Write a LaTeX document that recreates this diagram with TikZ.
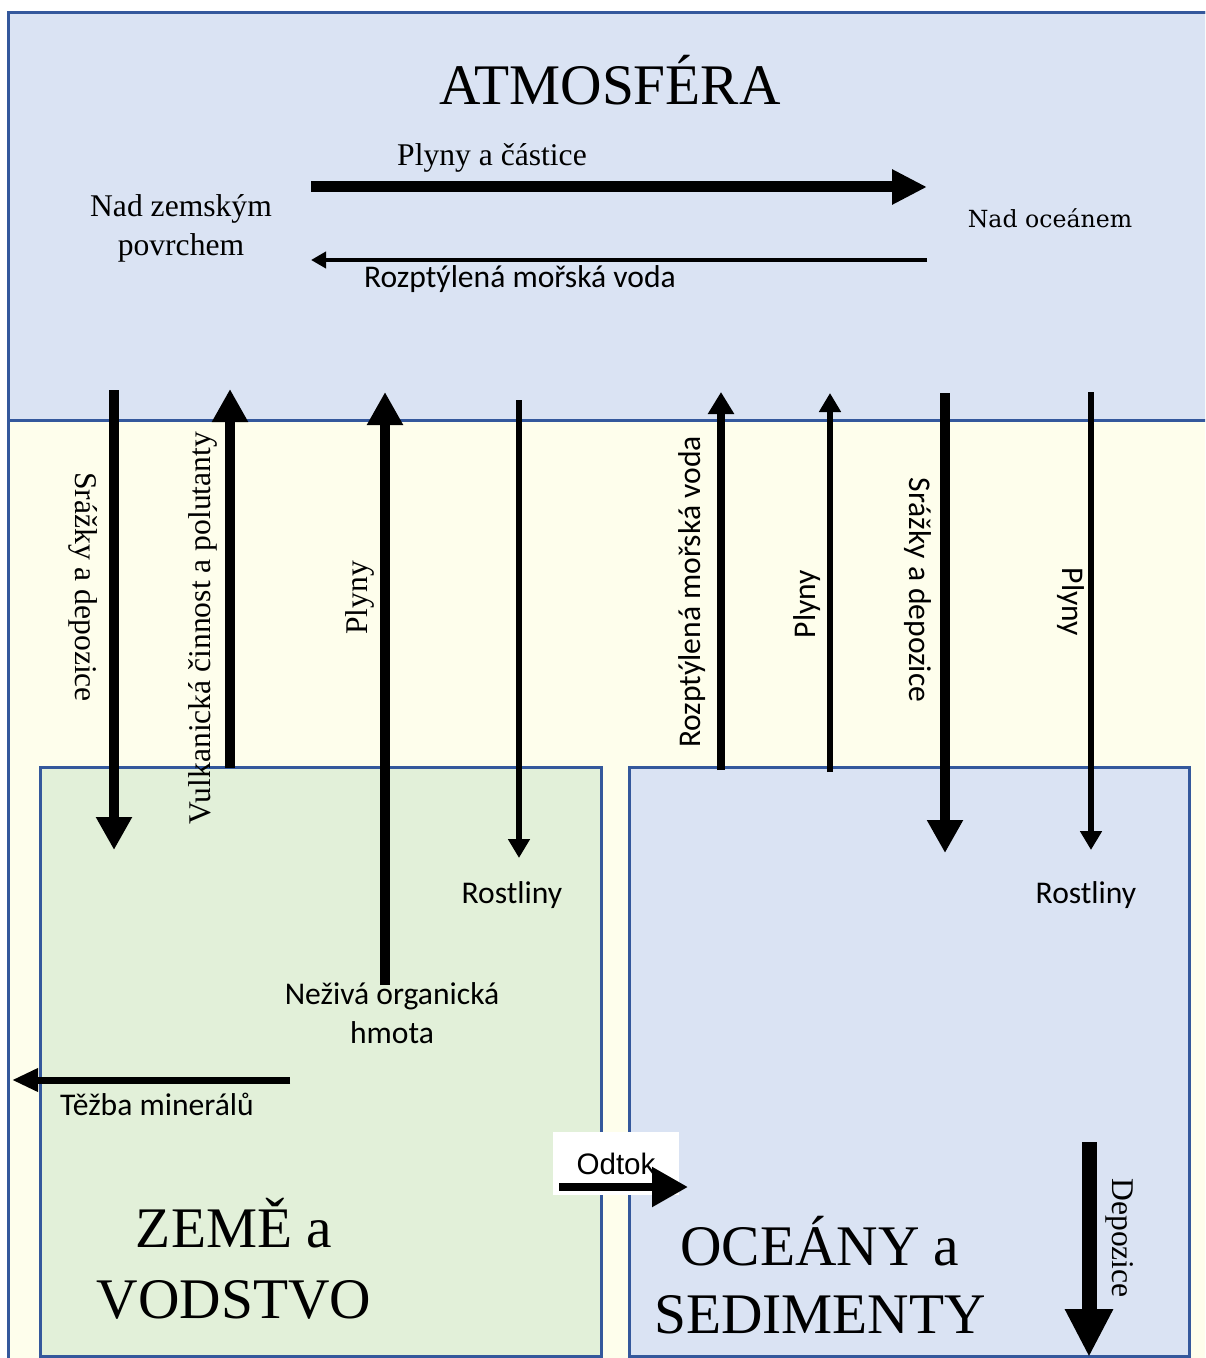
\documentclass[tikz,border=0pt]{standalone}
\usepackage{fontspec}
\setmainfont{Liberation Serif}
\newfontfamily\calfont{Carlito}
\newfontfamily\slabfont{DejaVu Serif}
\newfontfamily\arialfont{Liberation Sans}
\usetikzlibrary{positioning,arrows.meta}

\definecolor{atmblue}{HTML}{DAE3F3}
\definecolor{landgreen}{HTML}{E2F0D9}
\definecolor{paleyellow}{HTML}{FEFEEC}
\definecolor{edgeblue}{HTML}{34589C}

\begin{document}
\begin{tikzpicture}[
    x=0.5pt,y=-0.5pt,
    box/.style={draw=edgeblue,line width=1.5pt},
    big/.style={font=\fontsize{28.7}{35.5}\selectfont,align=center,inner sep=0pt},
    serlbl/.style={font=\fontsize{15.8}{19.5}\selectfont,inner sep=0pt,align=center},
    sanlbl/.style={font=\calfont\fontsize{15.8}{19.2}\selectfont,inner sep=0pt,align=center},
    fatflow/.style={line width=5.25pt,-{Triangle[length=16.5pt,width=17pt]}},
    wideflow/.style={line width=5.5pt,-{Triangle[length=17.5pt,width=16.5pt]}},
    midflow/.style={line width=4pt,-{Triangle[length=11pt,width=12.5pt]}},
    slimflow/.style={line width=2.75pt,-{Triangle[length=9.5pt,width=10.5pt]}},
    hairflow/.style={line width=2pt,-{Triangle[length=7.5pt,width=8pt]}},
    minflow/.style={line width=3.5pt,-{Triangle[length=13pt,width=11pt]}},
    runflow/.style={line width=4.25pt,-{Triangle[length=18pt,width=19pt]}},
    sedflow/.style={line width=7.5pt,-{Triangle[length=24pt,width=22.5pt]}}
    ]

    \useasboundingbox (0,0) rectangle (1205,1358);
    \fill[white] (0,0) rectangle (1205,1358);
    \clip (0,0) rectangle (1205,1358);

    % oblasti
    \filldraw[box,fill=paleyellow] (8,13) rectangle (1230,1380);
    \filldraw[box,fill=atmblue] (8,13) rectangle (1230,420);
    \filldraw[box,fill=landgreen] (40,767) rectangle (601,1356);
    \filldraw[box,fill=atmblue] (629,767) rectangle (1189,1356);

    % konce sipek
    \coordinate (srazL-a) at (114,390);  \coordinate (srazL-b) at (114,850);
    \coordinate (vulk-a) at (230,768);   \coordinate (vulk-b) at (230,389);
    \coordinate (plynL-a) at (385,985);  \coordinate (plynL-b) at (385,392);
    \coordinate (rostL-a) at (519,400);  \coordinate (rostL-b) at (519,858);
    \coordinate (rmvv-a) at (721,770);   \coordinate (rmvv-b) at (721,392);
    \coordinate (plynM-a) at (830,772);  \coordinate (plynM-b) at (830,393);
    \coordinate (srazR-a) at (945,393);  \coordinate (srazR-b) at (945,853);
    \coordinate (plynR-a) at (1091,392); \coordinate (plynR-b) at (1091,850);
    \coordinate (depoz-a) at (1089,1142); \coordinate (depoz-b) at (1089,1357);
    \coordinate (pac-a) at (311,187);    \coordinate (pac-b) at (927,187);
    \coordinate (rmvh-a) at (927,260);   \coordinate (rmvh-b) at (311,260);
    \coordinate (tezba-a) at (290,1080); \coordinate (tezba-b) at (12,1080);

    % popisky
    \node[big,anchor=base] (atm) at (610,105) {ATMOSFÉRA};
    \node[serlbl,anchor=base] (pac) at (492,166) {Plyny a částice};
    \node[serlbl,anchor=base] (nadzem) at (181,256) {Nad zemským\\povrchem};
    \node[font=\slabfont\fontsize{11.8}{14}\selectfont,inner sep=0pt,anchor=base] (nadocean) at (1050,228) {Nad oceánem};
    \node[sanlbl,anchor=base] (rmvh) at (520,288) {Rozptýlená mořská voda};

    \node[serlbl,rotate=-90] (srazL) at (83,587) {Srážky a depozice};
    \node[serlbl,rotate=90] (vulk) at (203,628) {Vulkanická činnost a polutanty};
    \node[serlbl,rotate=90] (plynL) at (360,598) {Plyny};
    \node[sanlbl,rotate=90] (rmvv) at (692,592) {Rozptýlená mořská voda};
    \node[sanlbl,rotate=90] (plynM) at (807,604) {Plyny};
    \node[sanlbl,rotate=-90] (srazR) at (918,590) {Srážky a depozice};
    \node[sanlbl,rotate=-90] (plynR) at (1071,602) {Plyny};
    \node[serlbl,rotate=-90] (depoz) at (1120,1238) {Depozice};

    \node[sanlbl,anchor=base] (rostL) at (512,903) {Rostliny};
    \node[sanlbl,anchor=base] (rostR) at (1086,903) {Rostliny};
    \node[sanlbl,anchor=base,font=\calfont\fontsize{15.8}{19.15}\selectfont] (neziva) at (392,1043) {Neživá organická\\hmota};
    \node[sanlbl,anchor=base] (tezba) at (157,1115) {Těžba minerálů};

    \node[big,anchor=base] (zeme) at (234,1318) {ZEMĚ a\\VODSTVO};
    \node[big,anchor=base,font=\fontsize{28.7}{34}\selectfont] (oceany) at (820,1333) {OCEÁNY a\\SEDIMENTY};

    \node[fill=white,minimum width=63pt,minimum height=31.5pt,inner sep=0pt,
          font=\arialfont\fontsize{14.8}{17}\selectfont] (odtok) at (616,1163.5) {Odtok};
    \coordinate (odtok-a) at (559,1187); \coordinate (odtok-b) at (688,1187);

    % toky
    \draw[fatflow] (srazL-a) -- (srazL-b);
    \draw[fatflow] (vulk-a) -- (vulk-b);
    \draw[fatflow] (plynL-a) -- (plynL-b);
    \draw[slimflow] (rostL-a) -- (rostL-b);
    \draw[midflow] (rmvv-a) -- (rmvv-b);
    \draw[slimflow] (plynM-a) -- (plynM-b);
    \draw[fatflow] (srazR-a) -- (srazR-b);
    \draw[slimflow] (plynR-a) -- (plynR-b);
    \draw[sedflow] (depoz-a) -- (depoz-b);
    \draw[wideflow] (pac-a) -- (pac-b);
    \draw[hairflow] (rmvh-a) -- (rmvh-b);
    \draw[minflow] (tezba-a) -- (tezba-b);
    \draw[runflow] (odtok-a) -- (odtok-b);

\end{tikzpicture}
\end{document}
